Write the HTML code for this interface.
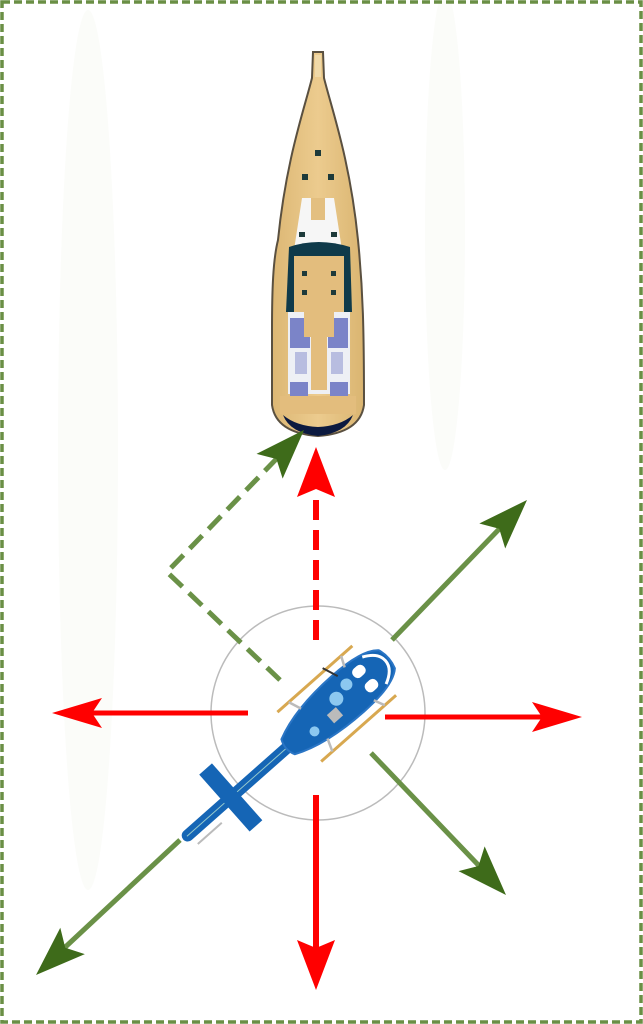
<!DOCTYPE html>
<html><head><meta charset="utf-8"><style>html,body{margin:0;padding:0;background:#fff}svg{display:block}</style></head>
<body>
<svg width="643" height="1024" viewBox="0 0 643 1024" xmlns="http://www.w3.org/2000/svg">
<defs>
<linearGradient id="deck" x1="0" x2="1"><stop offset="0" stop-color="#dcb774"/><stop offset="0.5" stop-color="#eccb8e"/><stop offset="1" stop-color="#dab571"/></linearGradient>
</defs>
<rect x="0" y="0" width="643" height="1024" fill="#fff"/>
<ellipse cx="88" cy="450" rx="30" ry="440" fill="#fbfcf9"/>
<ellipse cx="445" cy="230" rx="20" ry="240" fill="#fbfcf9"/>
<rect x="2" y="2" width="639" height="1020" fill="none" stroke="#6a8f45" stroke-width="3.5" stroke-dasharray="8,4"/>

<path d="M313,52 L323,52 L324,78 C332,110 350,160 358,240 C363,290 364,330 364,405 Q360,433 318,436 Q276,433 272,405 L272,330 C272,290 273,260 278,240 C286,160 304,110 312,78 Z" fill="url(#deck)" stroke="#5a5040" stroke-width="2"/>
<path d="M283,415 Q290,433 318,436 Q346,433 353,415 Q340,426 318,427 Q296,426 283,415Z" fill="#0c1a40"/>
<rect x="315" y="55" width="6" height="22" fill="#f0d9a8"/>
<path d="M302,198 L334,198 L342,250 L294,250 Z" fill="#f6f6f6"/>
<rect x="311" y="198" width="14" height="22" fill="#e3bf80"/>
<path d="M289,247 Q318,237 350,247 L352,312 L286,312 Z" fill="#0f3a4a"/>
<rect x="294" y="256" width="50" height="58" fill="#e3bd7d"/>
<rect x="288" y="312" width="62" height="82" fill="#eef0f5"/>
<rect x="290" y="318" width="20" height="30" fill="#7b84c8"/>
<rect x="328" y="318" width="20" height="30" fill="#7b84c8"/>
<rect x="304" y="312" width="30" height="25" fill="#e3bd7d"/>
<rect x="311" y="335" width="16" height="55" fill="#e3bd7d"/>
<rect x="295" y="352" width="12" height="22" fill="#b8bde0"/>
<rect x="331" y="352" width="12" height="22" fill="#b8bde0"/>
<rect x="290" y="382" width="18" height="15" fill="#7b84c8"/>
<rect x="330" y="382" width="18" height="15" fill="#7b84c8"/>
<rect x="280" y="396" width="76" height="18" fill="#e3bd7d"/>
<g fill="#1d3a3a"><rect x="315" y="150" width="6" height="6"/><rect x="302" y="174" width="6" height="6"/><rect x="328" y="174" width="6" height="6"/><rect x="299" y="232" width="6" height="5"/><rect x="331" y="232" width="6" height="5"/><rect x="302" y="271" width="5" height="5"/><rect x="331" y="271" width="5" height="5"/><rect x="302" y="290" width="5" height="5"/><rect x="331" y="290" width="5" height="5"/></g>

<circle cx="318" cy="713" r="107" fill="none" stroke="#bbb" stroke-width="1.5"/>

<g stroke="#ff0000" stroke-width="6" fill="none">
<line x1="316" y1="640" x2="316" y2="490" stroke-dasharray="20,10"/>
<line x1="248" y1="713" x2="92" y2="713" stroke-width="5"/>
<line x1="385" y1="717" x2="545" y2="717" stroke-width="5"/>
<line x1="316" y1="795" x2="316" y2="955"/>
</g>
<g fill="#ff0000">
<polygon points="0,0 -50,-19 -42,0 -50,19" transform="translate(316,447) rotate(-90)"/>
<polygon points="0,0 -50,-15 -40,0 -50,15" transform="translate(52,713) rotate(180)"/>
<polygon points="0,0 -50,-15 -40,0 -50,15" transform="translate(582,717)"/>
<polygon points="0,0 -50,-19 -42,0 -50,19" transform="translate(316,990) rotate(90)"/>
</g>

<g stroke="#6a9147" stroke-width="5" fill="none">
<line x1="392" y1="640" x2="505" y2="523"/>
<line x1="371" y1="753" x2="485" y2="872"/>
<line x1="180" y1="840" x2="60" y2="952"/>
<polyline points="280,680 167,572 285,450" stroke-dasharray="18,9"/>
</g>
<g fill="#3e6b1a">
<polygon points="0,0 -50,-18 -40,0 -50,18" transform="translate(527,500) rotate(-46)"/>
<polygon points="0,0 -50,-18 -40,0 -50,18" transform="translate(506,895) rotate(46.5)"/>
<polygon points="0,0 -50,-18 -40,0 -50,18" transform="translate(36,975) rotate(137)"/>
<polygon points="0,0 -50,-18 -40,0 -50,18" transform="translate(304,430) rotate(-46.5)"/>
</g>

<g transform="translate(333,707) rotate(-41.5)">
<rect x="-200" y="-6" width="150" height="12" rx="6" fill="#1565b5"/>
<line x1="-195" y1="0" x2="-40" y2="0" stroke="#9cc" stroke-width="1"/>
<rect x="-145" y="-38" width="17" height="76" fill="#1565b5"/>
<line x1="-192" y1="13" x2="-160" y2="13" stroke="#bbb" stroke-width="2"/>
<path d="M-60,-10 Q-30,-24 20,-24 Q60,-24 72,-12 Q76,0 72,12 Q60,24 20,24 Q-30,24 -60,10 Q-65,0 -60,-10Z" fill="#1565b5" stroke="#2a75c5" stroke-width="2"/>
<path d="M55,-18 Q70,-11 70,0 Q70,11 55,18" fill="none" stroke="#fff" stroke-width="3"/>
<rect x="36" y="-15" width="14" height="11" rx="5" fill="#fff"/>
<rect x="36" y="4" width="14" height="11" rx="5" fill="#fff"/>
<circle cx="8" cy="-4" r="7" fill="#8cc8f0"/>
<circle cx="25" cy="-8" r="6" fill="#8cc8f0"/>
<rect x="-10" y="2" width="12" height="11" fill="#bbb"/>
<circle cx="-30" cy="6" r="5" fill="#8cc8f0"/>
<line x1="-45" y1="-33" x2="55" y2="-33" stroke="#d8a850" stroke-width="3"/>
<line x1="-45" y1="33" x2="55" y2="33" stroke="#d8a850" stroke-width="3"/>
<g stroke="#bbb" stroke-width="2.5"><line x1="-30" y1="-33" x2="-25" y2="-20"/><line x1="40" y1="-33" x2="35" y2="-22"/><line x1="-30" y1="33" x2="-25" y2="20"/><line x1="40" y1="33" x2="35" y2="22"/></g>
<line x1="18" y1="-36" x2="24" y2="-20" stroke="#333" stroke-width="2"/>
</g>
</svg>
</body></html>
